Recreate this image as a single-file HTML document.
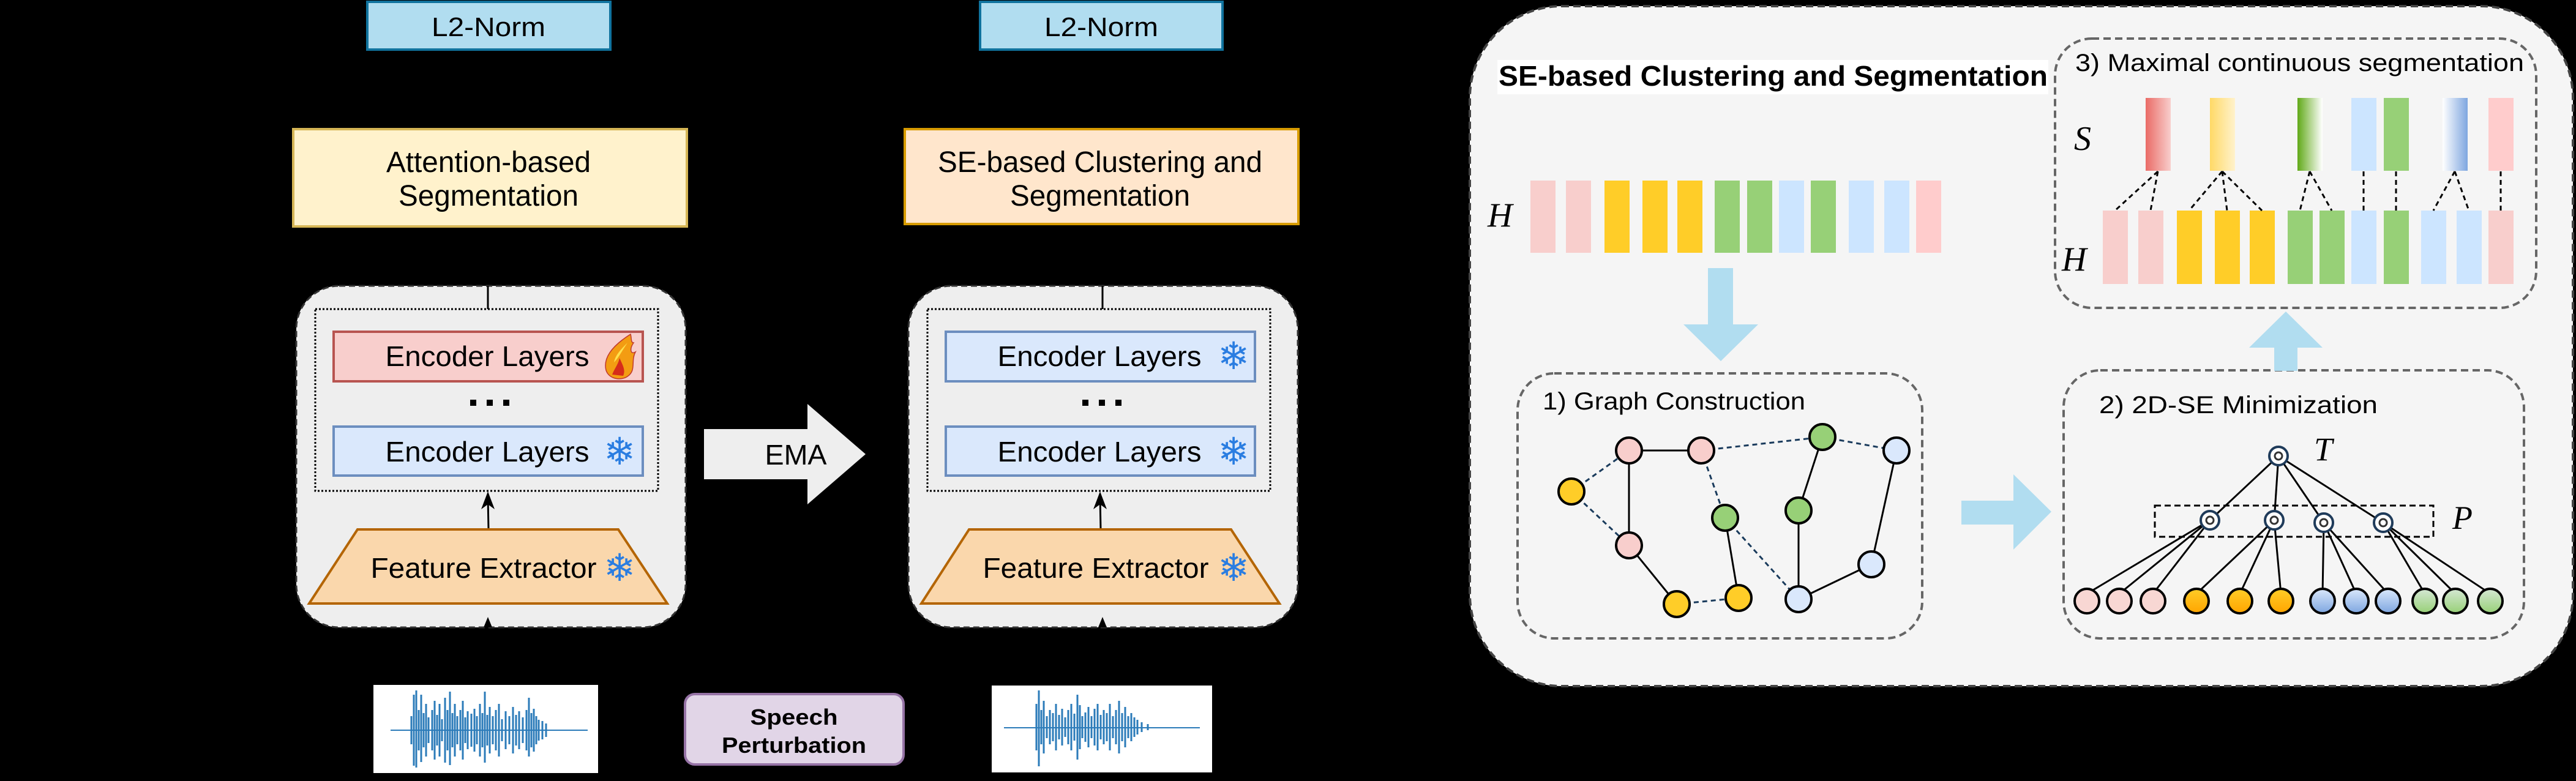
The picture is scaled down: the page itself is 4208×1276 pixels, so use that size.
<!DOCTYPE html>
<html><head><meta charset="utf-8"><style>html,body{margin:0;padding:0;background:#000}svg{display:block}</style></head><body>
<svg width="4208" height="1276" viewBox="0 0 4208 1276" xmlns="http://www.w3.org/2000/svg" font-family="Liberation Sans, Arial, sans-serif">
<defs>
<linearGradient id="gS1" x1="0" x2="1" y1="0" y2="0"><stop offset="0" stop-color="#ea6b66"/><stop offset="1" stop-color="#f8cecc"/></linearGradient>
<linearGradient id="gS2" x1="0" x2="1"><stop offset="0" stop-color="#ffd966"/><stop offset="1" stop-color="#fff2cc"/></linearGradient>
<linearGradient id="gS3" x1="0" x2="1"><stop offset="0" stop-color="#60a917"/><stop offset="1" stop-color="#ffffff"/></linearGradient>
<linearGradient id="gS6" x1="0" x2="1"><stop offset="0" stop-color="#ffffff"/><stop offset="1" stop-color="#7ea6e0"/></linearGradient>
<linearGradient id="gO" x1="0" x2="0" y1="0" y2="1"><stop offset="0" stop-color="#ffcd28"/><stop offset="1" stop-color="#ffa500"/></linearGradient>
<linearGradient id="gB" x1="0" x2="0" y1="0" y2="1"><stop offset="0" stop-color="#dae8fc"/><stop offset="1" stop-color="#7ea6e0"/></linearGradient>
<linearGradient id="gG" x1="0" x2="0" y1="0" y2="1"><stop offset="0" stop-color="#d5e8d4"/><stop offset="1" stop-color="#97d077"/></linearGradient>
</defs>
<rect width="4208" height="1276" fill="#000"/>

<rect x="600" y="3" width="397" height="78" fill="#b1ddf0" stroke="#10739e" stroke-width="4"/>
<text x="798" y="59" font-size="44" text-anchor="middle" textLength="186" lengthAdjust="spacingAndGlyphs">L2-Norm</text>
<rect x="1601" y="3" width="396" height="78" fill="#b1ddf0" stroke="#10739e" stroke-width="4"/>
<text x="1799" y="59" font-size="44" text-anchor="middle" textLength="186" lengthAdjust="spacingAndGlyphs">L2-Norm</text>

<rect x="479" y="211" width="643" height="159" fill="#fff2cc" stroke="#d6b656" stroke-width="4"/>
<text x="798" y="281" font-size="48" text-anchor="middle" textLength="334" lengthAdjust="spacingAndGlyphs">Attention-based</text>
<text x="798" y="336" font-size="48" text-anchor="middle" textLength="294" lengthAdjust="spacingAndGlyphs">Segmentation</text>
<rect x="1478" y="211" width="643" height="155" fill="#ffe6cc" stroke="#d79b00" stroke-width="4"/>
<text x="1797" y="281" font-size="48" text-anchor="middle" textLength="530" lengthAdjust="spacingAndGlyphs">SE-based Clustering and</text>
<text x="1797" y="336" font-size="48" text-anchor="middle" textLength="294" lengthAdjust="spacingAndGlyphs">Segmentation</text>

<g>
<rect x="484" y="467" width="636" height="558" rx="70" fill="#eeeeee" stroke="#333" stroke-width="3" stroke-dasharray="10,6"/>
<line x1="797" y1="467" x2="797" y2="505" stroke="#000" stroke-width="3"/>
<rect x="515" y="505" width="560" height="297" fill="none" stroke="#000" stroke-width="3" stroke-dasharray="3,3"/>
<rect x="545" y="542" width="505" height="81" fill="#f8cecc" stroke="#b85450" stroke-width="4"/>
<text x="796" y="598" font-size="46" text-anchor="middle" textLength="333" lengthAdjust="spacingAndGlyphs">Encoder Layers</text>
<path d="M1030,546 C1000,565 985,585 990,605 C995,620 1015,622 1025,615 C1040,605 1030,590 1038,575 C1030,580 1028,570 1035,560 C1030,560 1032,552 1030,546 Z" fill="#f39c12" stroke="#c0392b" stroke-width="1.5"/>
<path d="M1000,612 C1005,600 1010,595 1012,585 C1018,598 1022,605 1018,614 Z" fill="#d62c1a"/>
<path d="M1025,560 C1015,570 1005,580 1003,592 C1010,585 1015,575 1025,560 Z" fill="#ffe14d"/>
<rect x="768" y="653" width="10" height="10"/><rect x="795" y="653" width="10" height="10"/><rect x="822" y="653" width="10" height="10"/>
<rect x="545" y="697" width="505" height="80" fill="#dae8fc" stroke="#6c8ebf" stroke-width="4"/>
<text x="796" y="754" font-size="46" text-anchor="middle" textLength="333" lengthAdjust="spacingAndGlyphs">Encoder Layers</text>
<text x="1012" y="759" font-size="62" fill="#2a7de1" text-anchor="middle" font-family="DejaVu Sans, sans-serif">❄</text>
<line x1="798" y1="865" x2="797" y2="812" stroke="#000" stroke-width="3"/>
<path d="M797,803 L786,832 L797,824 L808,832 Z" fill="#000"/>
<path d="M584,865 L1010,865 L1090,986 L505,986 Z" fill="#fad7ac" stroke="#b46504" stroke-width="4"/>
<text x="790" y="944" font-size="46" text-anchor="middle" textLength="369" lengthAdjust="spacingAndGlyphs">Feature Extractor</text>
<text x="1012" y="949" font-size="62" fill="#2a7de1" text-anchor="middle" font-family="DejaVu Sans, sans-serif">❄</text>
<path d="M797,1008 L790,1025 L804,1025 Z" fill="#000"/>
</g>

<g>
<rect x="1484" y="467" width="636" height="558" rx="70" fill="#eeeeee" stroke="#333" stroke-width="3" stroke-dasharray="10,6"/>
<line x1="1801" y1="467" x2="1801" y2="505" stroke="#000" stroke-width="3"/>
<rect x="1515" y="505" width="560" height="297" fill="none" stroke="#000" stroke-width="3" stroke-dasharray="3,3"/>
<rect x="1545" y="542" width="505" height="81" fill="#dae8fc" stroke="#6c8ebf" stroke-width="4"/>
<text x="1796" y="598" font-size="46" text-anchor="middle" textLength="333" lengthAdjust="spacingAndGlyphs">Encoder Layers</text>
<text x="2015" y="603" font-size="62" fill="#2a7de1" text-anchor="middle" font-family="DejaVu Sans, sans-serif">❄</text>
<rect x="1768" y="653" width="10" height="10"/><rect x="1795" y="653" width="10" height="10"/><rect x="1822" y="653" width="10" height="10"/>
<rect x="1545" y="697" width="505" height="80" fill="#dae8fc" stroke="#6c8ebf" stroke-width="4"/>
<text x="1796" y="754" font-size="46" text-anchor="middle" textLength="333" lengthAdjust="spacingAndGlyphs">Encoder Layers</text>
<text x="2015" y="759" font-size="62" fill="#2a7de1" text-anchor="middle" font-family="DejaVu Sans, sans-serif">❄</text>
<line x1="1798" y1="865" x2="1797" y2="812" stroke="#000" stroke-width="3"/>
<path d="M1797,803 L1786,832 L1797,824 L1808,832 Z" fill="#000"/>
<path d="M1583,865 L2011,865 L2090,986 L1505,986 Z" fill="#fad7ac" stroke="#b46504" stroke-width="4"/>
<text x="1790" y="944" font-size="46" text-anchor="middle" textLength="369" lengthAdjust="spacingAndGlyphs">Feature Extractor</text>
<text x="2015" y="949" font-size="62" fill="#2a7de1" text-anchor="middle" font-family="DejaVu Sans, sans-serif">❄</text>
<path d="M1801,1008 L1794,1025 L1808,1025 Z" fill="#000"/>
</g>

<path d="M1150,701 L1319,701 L1319,660 L1414,742 L1319,824 L1319,783 L1150,783 Z" fill="#eeeeee"/>
<text x="1300" y="759" font-size="46" text-anchor="middle" textLength="101" lengthAdjust="spacingAndGlyphs">EMA</text>

<rect x="610" y="1119" width="367" height="144" fill="#fff"/>
<g stroke="#2b7bb9" stroke-width="3">
<line x1="638" y1="1193" x2="960" y2="1193" stroke-width="2"/>
<path d="M672,1170v46M676,1135v116M680,1128v126M684,1160v66M688,1135v110M692,1165v56M696,1150v86M700,1172v42M706,1160v66M710,1145v96M714,1168v50M718,1150v86M722,1175v36M727,1140v106M731,1160v66M735,1130v120M739,1165v56M743,1150v86M747,1170v46M752,1160v66M756,1145v96M760,1172v42M764,1162v62M770,1166v54M775,1158v70M779,1170v46M784,1150v86M788,1165v56M792,1130v116M796,1168v50M800,1155v76M805,1170v46M810,1160v66M815,1150v86M820,1175v36M826,1162v62M832,1170v46M838,1155v76M843,1168v50M848,1162v62M854,1172v42M860,1160v66M864,1140v96M868,1165v56M872,1158v70M876,1170v46M880,1176v34M886,1178v30M892,1182v22"/>
</g>
<rect x="1620" y="1120" width="360" height="142" fill="#fff"/>
<g stroke="#2b7bb9" stroke-width="3">
<line x1="1640" y1="1189" x2="1960" y2="1189" stroke-width="2"/>
<path d="M1693,1150v76M1697,1128v124M1701,1160v56M1705,1145v86M1710,1170v36M1715,1160v56M1720,1165v46M1725,1150v76M1730,1168v40M1735,1158v60M1740,1172v32M1745,1160v56M1750,1150v76M1755,1166v44M1760,1135v106M1764,1152v72M1768,1170v36M1773,1164v48M1778,1155v66M1783,1170v36M1788,1158v60M1793,1150v76M1798,1168v40M1803,1160v56M1808,1165v46M1813,1150v76M1818,1170v36M1823,1160v56M1828,1145v86M1833,1165v46M1838,1155v66M1843,1170v36M1848,1165v46M1853,1172v32M1858,1176v24M1865,1180v16M1875,1183v10"/>
</g>
<rect x="1119" y="1134" width="357" height="115" rx="16" fill="#e1d5e7" stroke="#9673a6" stroke-width="4"/>
<text x="1297" y="1184" font-size="36" font-weight="bold" text-anchor="middle" textLength="143" lengthAdjust="spacingAndGlyphs">Speech</text>
<text x="1297" y="1230" font-size="36" font-weight="bold" text-anchor="middle" textLength="236" lengthAdjust="spacingAndGlyphs">Perturbation</text>

<rect x="2401" y="10" width="1802" height="1111" rx="150" fill="#f5f5f5" stroke="#444" stroke-width="4" stroke-dasharray="12,7"/>
<rect x="2446" y="98" width="900" height="56" fill="#fff"/>
<text x="2448" y="140" font-size="46" font-weight="bold" textLength="897" lengthAdjust="spacingAndGlyphs">SE-based Clustering and Segmentation</text>

<g>
<rect x="2500" y="295" width="41" height="118" fill="#f8cecc"/>
<rect x="2558" y="295" width="41" height="118" fill="#f8cecc"/>
<rect x="2621" y="295" width="41" height="118" fill="#ffcd28"/>
<rect x="2683" y="295" width="41" height="118" fill="#ffcd28"/>
<rect x="2740" y="295" width="41" height="118" fill="#ffcd28"/>
<rect x="2801" y="295" width="41" height="118" fill="#97d077"/>
<rect x="2854" y="295" width="41" height="118" fill="#97d077"/>
<rect x="2906" y="295" width="41" height="118" fill="#cce5ff"/>
<rect x="2958" y="295" width="41" height="118" fill="#97d077"/>
<rect x="3020" y="295" width="41" height="118" fill="#cce5ff"/>
<rect x="3078" y="295" width="41" height="118" fill="#cce5ff"/>
<rect x="3130" y="295" width="41" height="118" fill="#ffcccc"/>
</g>
<text x="2430" y="370" font-size="56" font-style="italic" font-family="Liberation Serif, serif">H</text>

<path d="M2790,438 L2831,438 L2831,530 L2872,530 L2811,590 L2750,530 L2790,530 Z" fill="#b1ddf0"/>

<rect x="2479" y="610" width="661" height="433" rx="60" fill="none" stroke="#666" stroke-width="4" stroke-dasharray="12,7"/>
<text x="2520" y="669" font-size="40" textLength="429" lengthAdjust="spacingAndGlyphs">1) Graph Construction</text>
<g stroke-width="3" fill="none">
<g stroke="#000">
<line x1="2661" y1="736" x2="2779" y2="736"/><line x1="2661" y1="736" x2="2661" y2="891"/>
<line x1="2661" y1="891" x2="2739" y2="987"/><line x1="2818" y1="846" x2="2840" y2="977"/>
<line x1="2977" y1="714" x2="2938" y2="834"/><line x1="2938" y1="834" x2="2938" y2="979"/>
<line x1="2938" y1="979" x2="3057" y2="922"/><line x1="3057" y1="922" x2="3098" y2="736"/>
</g>
<g stroke="#1a3b5c" stroke-dasharray="8,6">
<line x1="2567" y1="803" x2="2661" y2="736"/><line x1="2567" y1="803" x2="2661" y2="891"/>
<line x1="2779" y1="736" x2="2977" y2="714"/><line x1="2977" y1="714" x2="3098" y2="736"/>
<line x1="2779" y1="736" x2="2818" y2="846"/><line x1="2818" y1="846" x2="2938" y2="979"/>
<line x1="2739" y1="987" x2="2840" y2="977"/>
</g>
</g>
<g stroke="#000" stroke-width="4">
<circle cx="2661" cy="736" r="21" fill="#f8cecc"/><circle cx="2779" cy="736" r="21" fill="#f8cecc"/>
<circle cx="2567" cy="803" r="21" fill="#ffcd28"/><circle cx="2661" cy="891" r="21" fill="#f8cecc"/>
<circle cx="2977" cy="714" r="21" fill="#97d077"/><circle cx="3098" cy="736" r="21" fill="#dae8fc"/>
<circle cx="2818" cy="846" r="21" fill="#97d077"/><circle cx="2938" cy="834" r="21" fill="#97d077"/>
<circle cx="3057" cy="922" r="21" fill="#dae8fc"/><circle cx="2739" cy="987" r="21" fill="#ffcd28"/>
<circle cx="2840" cy="977" r="21" fill="#ffcd28"/><circle cx="2938" cy="979" r="21" fill="#dae8fc"/>
</g>

<path d="M3204,818 L3289,818 L3289,775 L3351,836 L3289,898 L3289,857 L3204,857 Z" fill="#b1ddf0"/>

<rect x="3371" y="605" width="752" height="438" rx="60" fill="none" stroke="#666" stroke-width="4" stroke-dasharray="12,7"/>
<text x="3429" y="675" font-size="40" textLength="455" lengthAdjust="spacingAndGlyphs">2)  2D-SE Minimization</text>
<rect x="3520" y="826" width="455" height="51" fill="none" stroke="#000" stroke-width="3" stroke-dasharray="10,6"/>
<g stroke="#000" stroke-width="3">
<line x1="3722" y1="745" x2="3610" y2="850"/><line x1="3722" y1="745" x2="3715" y2="850"/>
<line x1="3722" y1="745" x2="3796" y2="854"/><line x1="3722" y1="745" x2="3893" y2="854"/>
<line x1="3610" y1="850" x2="3409" y2="970"/><line x1="3610" y1="850" x2="3462" y2="970"/><line x1="3610" y1="850" x2="3517" y2="970"/>
<line x1="3715" y1="850" x2="3588" y2="970"/><line x1="3715" y1="850" x2="3659" y2="970"/><line x1="3715" y1="850" x2="3726" y2="970"/>
<line x1="3796" y1="854" x2="3794" y2="970"/><line x1="3796" y1="854" x2="3849" y2="970"/><line x1="3796" y1="854" x2="3901" y2="970"/>
<line x1="3893" y1="854" x2="3961" y2="970"/><line x1="3893" y1="854" x2="4011" y2="970"/><line x1="3893" y1="854" x2="4068" y2="970"/>
</g>
<g stroke="#1f3b5a" stroke-width="4" fill="#fff">
<circle cx="3722" cy="745" r="15"/><circle cx="3610" cy="850" r="15"/><circle cx="3715" cy="850" r="15"/><circle cx="3796" cy="854" r="15"/><circle cx="3893" cy="854" r="15"/>
</g>
<g stroke="#333" stroke-width="3" fill="none">
<circle cx="3722" cy="745" r="6"/><circle cx="3610" cy="850" r="6"/><circle cx="3715" cy="850" r="6"/><circle cx="3796" cy="854" r="6"/><circle cx="3893" cy="854" r="6"/>
</g>
<g stroke="#000" stroke-width="4">
<circle cx="3409" cy="982" r="20" fill="#f8d7d3"/><circle cx="3462" cy="982" r="20" fill="#f8d7d3"/><circle cx="3517" cy="982" r="20" fill="#f8d7d3"/>
<circle cx="3588" cy="982" r="20" fill="url(#gO)"/><circle cx="3659" cy="982" r="20" fill="url(#gO)"/><circle cx="3726" cy="982" r="20" fill="url(#gO)"/>
<circle cx="3794" cy="982" r="20" fill="url(#gB)"/><circle cx="3849" cy="982" r="20" fill="url(#gB)"/><circle cx="3901" cy="982" r="20" fill="url(#gB)"/>
<circle cx="3961" cy="982" r="20" fill="url(#gG)"/><circle cx="4011" cy="982" r="20" fill="url(#gG)"/><circle cx="4068" cy="982" r="20" fill="url(#gG)"/>
</g>
<text x="3780" y="752" font-size="54" font-style="italic" font-family="Liberation Serif, serif">T</text>
<text x="4006" y="864" font-size="54" font-style="italic" font-family="Liberation Serif, serif">P</text>

<path d="M3715,606 L3753,606 L3753,568 L3794,568 L3734,509 L3674,568 L3715,568 Z" fill="#b1ddf0"/>

<rect x="3357" y="63" width="786" height="440" rx="60" fill="none" stroke="#666" stroke-width="4" stroke-dasharray="12,7"/>
<text x="3390" y="116" font-size="40" textLength="733" lengthAdjust="spacingAndGlyphs">3)  Maximal continuous segmentation</text>
<text x="3388" y="245" font-size="56" font-style="italic" font-family="Liberation Serif, serif">S</text>
<text x="3368" y="442" font-size="56" font-style="italic" font-family="Liberation Serif, serif">H</text>
<rect x="3505" y="160" width="41" height="119" fill="url(#gS1)"/>
<rect x="3610" y="160" width="41" height="119" fill="url(#gS2)"/>
<rect x="3753" y="160" width="41" height="119" fill="url(#gS3)"/>
<rect x="3841" y="160" width="41" height="119" fill="#cce5ff"/>
<rect x="3894" y="160" width="41" height="119" fill="#97d077"/>
<rect x="3990" y="160" width="41" height="119" fill="url(#gS6)"/>
<rect x="4065" y="160" width="41" height="119" fill="#ffcccc"/>
<g>
<rect x="3435" y="344" width="41" height="120" fill="#f8cecc"/>
<rect x="3493" y="344" width="41" height="120" fill="#f8cecc"/>
<rect x="3556" y="344" width="41" height="120" fill="#ffcd28"/>
<rect x="3618" y="344" width="41" height="120" fill="#ffcd28"/>
<rect x="3675" y="344" width="41" height="120" fill="#ffcd28"/>
<rect x="3737" y="344" width="41" height="120" fill="#97d077"/>
<rect x="3789" y="344" width="41" height="120" fill="#97d077"/>
<rect x="3841" y="344" width="41" height="120" fill="#cce5ff"/>
<rect x="3894" y="344" width="41" height="120" fill="#97d077"/>
<rect x="3955" y="344" width="41" height="120" fill="#cce5ff"/>
<rect x="4013" y="344" width="41" height="120" fill="#cce5ff"/>
<rect x="4065" y="344" width="41" height="120" fill="#f8cecc"/>
</g>
<g stroke="#000" stroke-width="3" stroke-dasharray="8,6">
<line x1="3525" y1="280" x2="3455" y2="344"/><line x1="3525" y1="280" x2="3513" y2="344"/>
<line x1="3630" y1="280" x2="3576" y2="344"/><line x1="3630" y1="280" x2="3638" y2="344"/><line x1="3630" y1="280" x2="3695" y2="344"/>
<line x1="3773" y1="280" x2="3757" y2="344"/><line x1="3773" y1="280" x2="3809" y2="344"/>
<line x1="3861" y1="280" x2="3861" y2="344"/><line x1="3914" y1="280" x2="3914" y2="344"/>
<line x1="4010" y1="280" x2="3975" y2="344"/><line x1="4010" y1="280" x2="4033" y2="344"/>
<line x1="4085" y1="280" x2="4085" y2="344"/>
</g>
</svg>
</body></html>
